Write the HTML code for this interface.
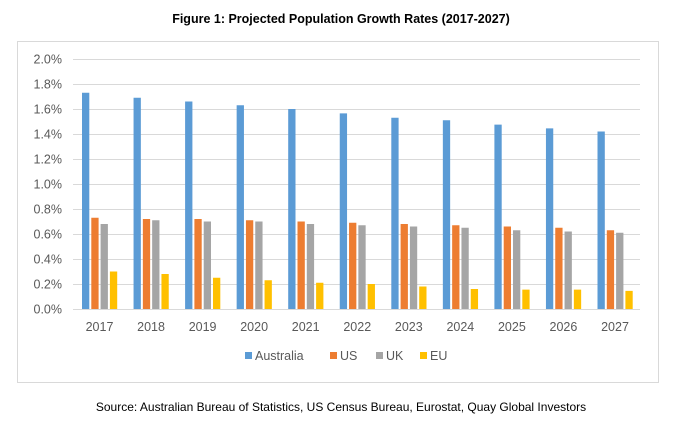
<!DOCTYPE html><html><head><style>body{margin:0;background:#fff;width:682px;height:424px;overflow:hidden}</style></head><body>
<svg width="682" height="424" xmlns="http://www.w3.org/2000/svg" font-family="Liberation Sans, Arial, sans-serif">
<text x="341" y="23" text-anchor="middle" font-size="12.5" font-weight="bold">Figure 1: Projected Population Growth Rates (2017-2027)</text>
<rect x="17.5" y="41.5" width="641" height="341" fill="#fff" stroke="#d9d9d9"/>
<g id="g"></g>
<text x="341" y="411" text-anchor="middle" font-size="12">Source: Australian Bureau of Statistics, US Census Bureau, Eurostat, Quay Global Investors</text>
</svg>
<script>
var g=document.getElementById('g'),s='';
var y0=309,k=125;
for(var i=0;i<=10;i++){var y=y0-i*25;s+='<line x1="73" x2="640" y1="'+(y+.5)+'" y2="'+(y+.5)+'" stroke="#d9d9d9"/>';s+='<text x="62" y="'+(y+4.5)+'" text-anchor="end" font-size="12.5" fill="#595959">'+(i*0.2).toFixed(1)+'%</text>';}
var d=[[1.73,1.69,1.66,1.63,1.60,1.565,1.53,1.51,1.475,1.445,1.42],[.73,.72,.72,.71,.70,.69,.68,.67,.66,.65,.63],[.68,.71,.70,.70,.68,.67,.66,.65,.63,.62,.61],[.30,.28,.25,.23,.21,.20,.18,.16,.155,.155,.145]];
var c=['#5b9bd5','#ed7d31','#a5a5a5','#ffc000'];
for(var j=0;j<11;j++){var x0=73+j*51.55;
for(var t=0;t<4;t++){var h=d[t][j]*k;s+='<rect x="'+(x0+9+t*9.3)+'" y="'+(y0-h)+'" width="7.3" height="'+h+'" fill="'+c[t]+'"/>';}
s+='<text x="'+(x0+26.5)+'" y="331" text-anchor="middle" font-size="12.5" fill="#595959">'+(2017+j)+'</text>';}
var L=[['Australia',245],['US',330],['UK',376],['EU',420]];
for(var t=0;t<4;t++){s+='<rect x="'+L[t][1]+'" y="352" width="7" height="7" fill="'+c[t]+'"/><text x="'+(L[t][1]+10)+'" y="360" font-size="12.5" fill="#595959">'+L[t][0]+'</text>';}
g.innerHTML=s;
</script></body></html>
